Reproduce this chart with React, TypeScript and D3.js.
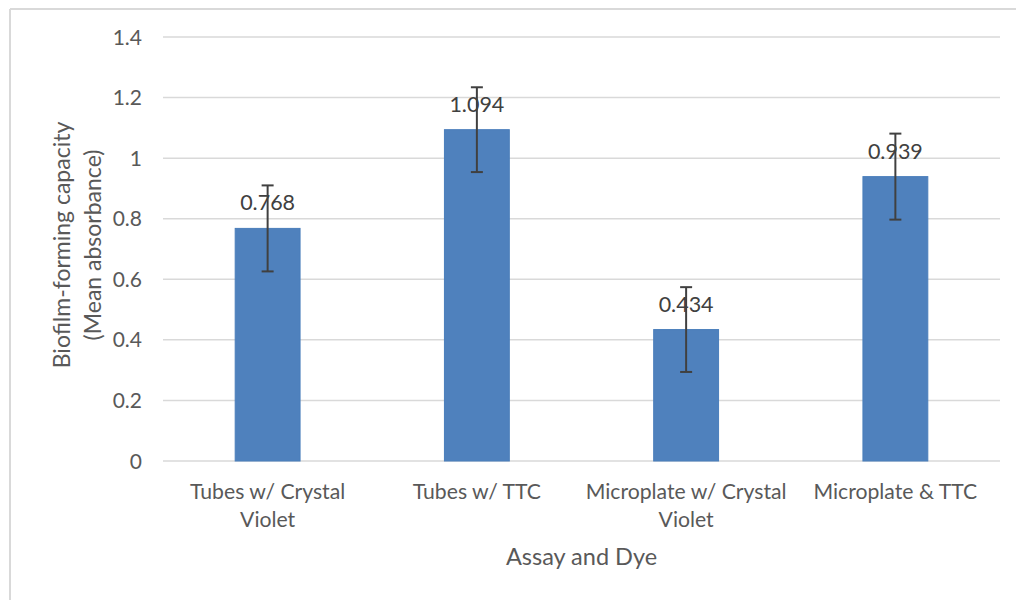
import React from "react";
import * as d3 from "d3";

const categories: string[][] = [
  ["Tubes w/ Crystal", "Violet"],
  ["Tubes w/ TTC"],
  ["Microplate w/ Crystal", "Violet"],
  ["Microplate & TTC"],
];
const values: number[] = [0.768, 1.094, 0.434, 0.939];
const errors: number[] = [0.142, 0.14, 0.14, 0.142];
const yTicks: number[] = [0, 0.2, 0.4, 0.6, 0.8, 1, 1.2, 1.4];
const xTitle = "Assay and Dye";
const yTitle = ["Biofilm-forming capacity", "(Mean absorbance)"];

const W = 1016;
const H = 600;
const plot = { left: 163, right: 1000, top: 37, bottom: 461 };
const FONT = "Lato, 'Open Sans', sans-serif";

export default function App() {
  const x = d3
    .scaleBand<number>()
    .domain(values.map((_, i) => i))
    .range([plot.left, plot.right])
    .paddingInner(0.69)
    .paddingOuter(0.345);
  const y = d3.scaleLinear().domain([0, 1.4]).range([plot.bottom, plot.top]);
  const bw = x.bandwidth();
  const step = x.step();

  return (
    <svg
      width={W}
      height={H}
      style={{ position: "absolute", left: 0, top: 0, background: "#fff" }}
      fontFamily={FONT}
    >
      <rect x={0} y={0} width={W} height={H} fill="#fff" />
      {/* chart border */}
      <line x1={10} x2={W + 2} y1={9} y2={9} stroke="#d9d9d9" strokeWidth={2} />
      <line x1={10} x2={10} y1={9} y2={H + 2} stroke="#d9d9d9" strokeWidth={2} />

      {/* gridlines & y ticks */}
      {yTicks.map((t) => (
        <g key={t}>
          <line
            x1={plot.left}
            x2={plot.right}
            y1={y(t)}
            y2={y(t)}
            stroke="#d9d9d9"
            strokeWidth={1.5}
          />
          <text
            x={142}
            y={y(t)}
            dy="0.36em"
            textAnchor="end"
            fontSize={21}
            fill="#595959"
          >
            {d3.format("~g")(t)}
          </text>
        </g>
      ))}

      {/* bars */}
      {values.map((v, i) => {
        const bx = x(i)!;
        return (
          <rect
            key={i}
            x={bx}
            y={y(v)}
            width={bw}
            height={y(0) - y(v)}
            fill="#4f81bd"
            stroke="#4a7ebb"
            strokeWidth={1}
          />
        );
      })}

      {/* data labels */}
      {values.map((v, i) => {
        const cx = x(i)! + bw / 2;
        return (
          <text
            key={i}
            x={cx}
            y={y(v) - 18}
            textAnchor="middle"
            fontSize={21.5}
            fill="#404040"
          >
            {d3.format(".3f")(v)}
          </text>
        );
      })}

      {/* error bars */}
      {values.map((v, i) => {
        const cx = x(i)! + bw / 2;
        const top = y(v + errors[i]);
        const bot = y(v - errors[i]);
        return (
          <g key={i} stroke="#404040" strokeWidth={2}>
            <line x1={cx} x2={cx} y1={top} y2={bot} />
            <line x1={cx - 6} x2={cx + 6} y1={top} y2={top} />
            <line x1={cx - 6} x2={cx + 6} y1={bot} y2={bot} />
          </g>
        );
      })}

      {/* category labels */}
      {categories.map((lines, i) => {
        const cx = plot.left + step * i + step / 2;
        return (
          <text
            key={i}
            x={cx}
            y={499}
            textAnchor="middle"
            fontSize={21.2}
            fill="#595959"
          >
            {lines.map((l, j) => (
              <tspan key={j} x={cx} dy={j === 0 ? 0 : 28}>
                {l}
              </tspan>
            ))}
          </text>
        );
      })}

      {/* axis titles */}
      <text
        x={(plot.left + plot.right) / 2}
        y={565}
        textAnchor="middle"
        fontSize={23.5}
        fill="#595959"
      >
        {xTitle}
      </text>
      <text
        transform={`translate(70, 245) rotate(-90)`}
        textAnchor="middle"
        fontSize={23}
        fill="#595959"
      >
        <tspan x={0} dy={0}>{yTitle[0]}</tspan>
        <tspan x={0} dy={31}>{yTitle[1]}</tspan>
      </text>
    </svg>
  );
}
